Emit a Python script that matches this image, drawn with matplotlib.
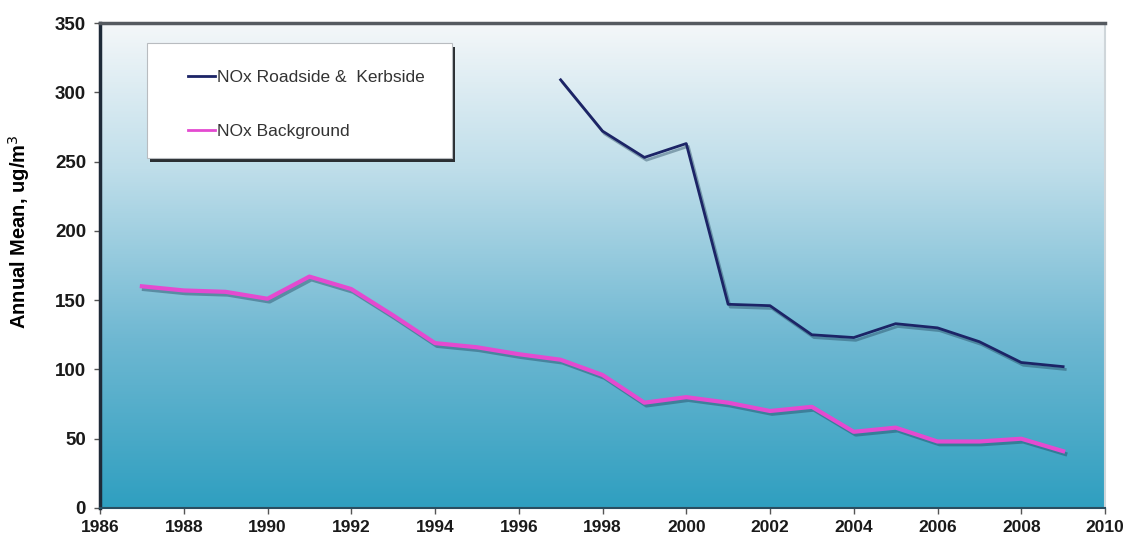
import matplotlib
matplotlib.use("Agg")
import matplotlib.pyplot as plt
import matplotlib.patheffects as pe
import numpy as np
from matplotlib.colors import LinearSegmentedColormap
from matplotlib.patches import Rectangle

# annual mean NOx, ug/m3
years_road = [1997, 1998, 1999, 2000, 2001, 2002, 2003, 2004, 2005, 2006, 2007, 2008, 2009]
nox_road = [309, 272, 253, 263, 147, 146, 125, 123, 133, 130, 120, 105, 102]

years_bg = list(range(1987, 2010))
nox_bg = [160, 157, 156, 151, 167, 158, 139, 119, 116, 111, 107, 96, 76, 80, 76,
          70, 73, 55, 58, 48, 48, 50, 41]

x_ticks = list(range(1986, 2011, 2))
y_ticks = list(range(0, 351, 50))

plt.rcParams['font.family'] = ['Liberation Sans', 'DejaVu Sans']

fig = plt.figure(figsize=(11.27, 5.4), dpi=100)
ax = fig.add_axes([100 / 1127, 32 / 540, 1005 / 1127, 485 / 540])

ax.set_xlim(1986, 2010)
ax.set_ylim(0, 350)

# background gradient, pale at the top, teal at the bottom
bg_cmap = LinearSegmentedColormap.from_list(
    "bg", [(0.0, "#2f9fc0"), (0.35, "#6fb8d2"), (0.7, "#bfdeea"), (1.0, "#f4f7f9")])
grad = np.linspace(0, 1, 256).reshape(-1, 1)
ax.imshow(grad, aspect="auto", cmap=bg_cmap, origin="lower",
          extent=[1986, 2010, 0, 350], zorder=0)

shadow = [pe.SimpleLineShadow(offset=(1.5, -2), shadow_color="#1a3d55", alpha=0.4),
          pe.Normal()]

ln1, = ax.plot(years_road, nox_road, color="#1c2466", lw=2.0,
               label="NOx Roadside &  Kerbside", path_effects=shadow, zorder=3)
ln2, = ax.plot(years_bg, nox_bg, color="#e44ad0", lw=3.0,
               label="NOx Background", path_effects=shadow, zorder=3)

ax.set_xticks(x_ticks)
ax.set_yticks(y_ticks)
ax.tick_params(axis="both", direction="out", length=4, width=1, color="#555555")
ax.tick_params(axis="x", labelsize=12.5, pad=5)
ax.tick_params(axis="y", labelsize=13.5, pad=6)
for lab in ax.get_xticklabels() + ax.get_yticklabels():
    lab.set_fontweight("bold")
    lab.set_color("#1a1a1a")
ax.set_ylabel("Annual Mean, ug/m$^3$", fontsize=14.5, fontweight="bold")
ax.yaxis.set_label_coords(-0.068, 0.57)

ax.spines["left"].set_color("#1e2a38")
ax.spines["left"].set_linewidth(2.5)
ax.spines["top"].set_color("#555a60")
ax.spines["top"].set_linewidth(2.5)
ax.spines["bottom"].set_color("#2a4d60")
ax.spines["bottom"].set_linewidth(1.5)
ax.spines["right"].set_color("#cfd6da")
ax.spines["right"].set_linewidth(1.5)

# legend box with a drop shadow
lx0, ly0, lw, lh = 147 / 1127, 1 - 158 / 540, 305 / 1127, 115 / 540
sh = Rectangle((lx0 + 0.003, ly0 - 0.008), lw, lh, transform=fig.transFigure,
               facecolor="#2b2f33", edgecolor="none", zorder=4)
box = Rectangle((lx0, ly0), lw, lh, transform=fig.transFigure,
                facecolor="white", edgecolor="#b8bcc0", lw=0.8, zorder=5)
fig.patches.extend([sh, box])

leg = fig.legend(handles=[ln1, ln2], loc="upper left",
                 bbox_to_anchor=(172 / 1127, 1 - 54 / 540), frameon=False,
                 fontsize=12.5, handlelength=1.6, handletextpad=0.1,
                 labelspacing=2.25, labelcolor="#333333")
for h in leg.legend_handles:
    h.set_path_effects([])
    h.set_linewidth(2)
leg.set_zorder(6)

fig.savefig("out.png", dpi=100)
